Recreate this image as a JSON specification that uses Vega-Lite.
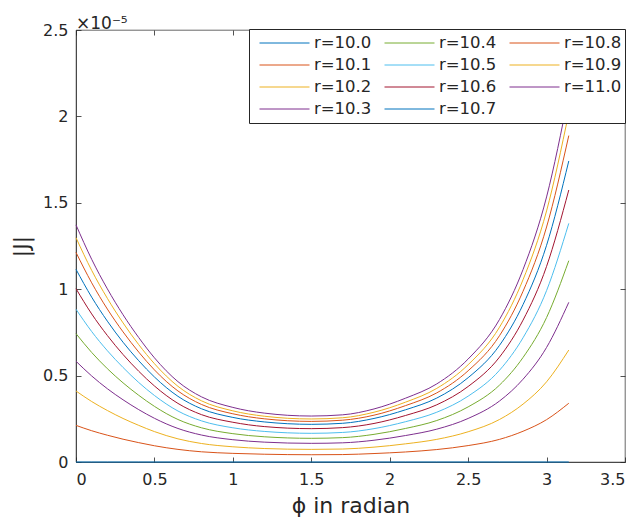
{
  "$schema": "https://vega.github.io/schema/vega-lite/v6.json",
  "autosize": "none",
  "width": 549,
  "height": 432,
  "padding": {"left": 76, "top": 30, "right": 12, "bottom": 60},
  "title": {"text": "×10⁻⁵", "anchor": "start", "frame": "group", "fontSize": 17, "fontWeight": "normal", "color": "#262626", "font": "DejaVu Sans", "offset": 4, "dy": 15},
  "data": {"values": [
    {"r":"r=10.0","p":0,"J":0},{"r":"r=10.0","p":0.1,"J":0},{"r":"r=10.0","p":0.2,"J":0},{"r":"r=10.0","p":0.3,"J":0},{"r":"r=10.0","p":0.4,"J":0},{"r":"r=10.0","p":0.5,"J":0},{"r":"r=10.0","p":0.65,"J":0},{"r":"r=10.0","p":0.8,"J":0},{"r":"r=10.0","p":1.0,"J":0},{"r":"r=10.0","p":1.2,"J":0},{"r":"r=10.0","p":1.5,"J":0},{"r":"r=10.0","p":1.7,"J":0},{"r":"r=10.0","p":1.9,"J":0},{"r":"r=10.0","p":2.1,"J":0},{"r":"r=10.0","p":2.3,"J":0},{"r":"r=10.0","p":2.5,"J":0},{"r":"r=10.0","p":2.7,"J":0},{"r":"r=10.0","p":2.85,"J":0},{"r":"r=10.0","p":3.0,"J":0},{"r":"r=10.0","p":3.1416,"J":0},
    {"r":"r=10.1","p":0,"J":0.212},{"r":"r=10.1","p":0.1,"J":0.181},{"r":"r=10.1","p":0.2,"J":0.155},{"r":"r=10.1","p":0.3,"J":0.132},{"r":"r=10.1","p":0.4,"J":0.112},{"r":"r=10.1","p":0.5,"J":0.094},{"r":"r=10.1","p":0.65,"J":0.073},{"r":"r=10.1","p":0.8,"J":0.059},{"r":"r=10.1","p":1.0,"J":0.050},{"r":"r=10.1","p":1.2,"J":0.045},{"r":"r=10.1","p":1.5,"J":0.042},{"r":"r=10.1","p":1.7,"J":0.043},{"r":"r=10.1","p":1.9,"J":0.049},{"r":"r=10.1","p":2.1,"J":0.058},{"r":"r=10.1","p":2.3,"J":0.072},{"r":"r=10.1","p":2.5,"J":0.095},{"r":"r=10.1","p":2.7,"J":0.131},{"r":"r=10.1","p":2.85,"J":0.178},{"r":"r=10.1","p":3.0,"J":0.245},{"r":"r=10.1","p":3.1416,"J":0.340},
    {"r":"r=10.2","p":0,"J":0.411},{"r":"r=10.2","p":0.1,"J":0.350},{"r":"r=10.2","p":0.2,"J":0.298},{"r":"r=10.2","p":0.3,"J":0.252},{"r":"r=10.2","p":0.4,"J":0.212},{"r":"r=10.2","p":0.5,"J":0.176},{"r":"r=10.2","p":0.65,"J":0.134},{"r":"r=10.2","p":0.8,"J":0.107},{"r":"r=10.2","p":1.0,"J":0.088},{"r":"r=10.2","p":1.2,"J":0.078},{"r":"r=10.2","p":1.5,"J":0.073},{"r":"r=10.2","p":1.7,"J":0.075},{"r":"r=10.2","p":1.9,"J":0.086},{"r":"r=10.2","p":2.1,"J":0.105},{"r":"r=10.2","p":2.3,"J":0.131},{"r":"r=10.2","p":2.5,"J":0.175},{"r":"r=10.2","p":2.7,"J":0.246},{"r":"r=10.2","p":2.85,"J":0.335},{"r":"r=10.2","p":3.0,"J":0.464},{"r":"r=10.2","p":3.1416,"J":0.648},
    {"r":"r=10.3","p":0,"J":0.583},{"r":"r=10.3","p":0.1,"J":0.498},{"r":"r=10.3","p":0.2,"J":0.424},{"r":"r=10.3","p":0.3,"J":0.360},{"r":"r=10.3","p":0.4,"J":0.303},{"r":"r=10.3","p":0.5,"J":0.253},{"r":"r=10.3","p":0.65,"J":0.194},{"r":"r=10.3","p":0.8,"J":0.156},{"r":"r=10.3","p":1.0,"J":0.129},{"r":"r=10.3","p":1.2,"J":0.115},{"r":"r=10.3","p":1.5,"J":0.108},{"r":"r=10.3","p":1.7,"J":0.111},{"r":"r=10.3","p":1.9,"J":0.126},{"r":"r=10.3","p":2.1,"J":0.153},{"r":"r=10.3","p":2.3,"J":0.190},{"r":"r=10.3","p":2.5,"J":0.252},{"r":"r=10.3","p":2.7,"J":0.353},{"r":"r=10.3","p":2.85,"J":0.479},{"r":"r=10.3","p":3.0,"J":0.663},{"r":"r=10.3","p":3.1416,"J":0.924},
    {"r":"r=10.4","p":0,"J":0.743},{"r":"r=10.4","p":0.1,"J":0.634},{"r":"r=10.4","p":0.2,"J":0.540},{"r":"r=10.4","p":0.3,"J":0.458},{"r":"r=10.4","p":0.4,"J":0.386},{"r":"r=10.4","p":0.5,"J":0.322},{"r":"r=10.4","p":0.65,"J":0.246},{"r":"r=10.4","p":0.8,"J":0.198},{"r":"r=10.4","p":1.0,"J":0.164},{"r":"r=10.4","p":1.2,"J":0.146},{"r":"r=10.4","p":1.5,"J":0.137},{"r":"r=10.4","p":1.7,"J":0.141},{"r":"r=10.4","p":1.9,"J":0.160},{"r":"r=10.4","p":2.1,"J":0.194},{"r":"r=10.4","p":2.3,"J":0.240},{"r":"r=10.4","p":2.5,"J":0.319},{"r":"r=10.4","p":2.7,"J":0.445},{"r":"r=10.4","p":2.85,"J":0.605},{"r":"r=10.4","p":3.0,"J":0.836},{"r":"r=10.4","p":3.1416,"J":1.165},
    {"r":"r=10.5","p":0,"J":0.884},{"r":"r=10.5","p":0.1,"J":0.755},{"r":"r=10.5","p":0.2,"J":0.644},{"r":"r=10.5","p":0.3,"J":0.547},{"r":"r=10.5","p":0.4,"J":0.460},{"r":"r=10.5","p":0.5,"J":0.385},{"r":"r=10.5","p":0.65,"J":0.295},{"r":"r=10.5","p":0.8,"J":0.238},{"r":"r=10.5","p":1.0,"J":0.198},{"r":"r=10.5","p":1.2,"J":0.177},{"r":"r=10.5","p":1.5,"J":0.166},{"r":"r=10.5","p":1.7,"J":0.171},{"r":"r=10.5","p":1.9,"J":0.193},{"r":"r=10.5","p":2.1,"J":0.233},{"r":"r=10.5","p":2.3,"J":0.288},{"r":"r=10.5","p":2.5,"J":0.381},{"r":"r=10.5","p":2.7,"J":0.531},{"r":"r=10.5","p":2.85,"J":0.719},{"r":"r=10.5","p":3.0,"J":0.992},{"r":"r=10.5","p":3.1416,"J":1.381},
    {"r":"r=10.6","p":0,"J":1.003},{"r":"r=10.6","p":0.1,"J":0.857},{"r":"r=10.6","p":0.2,"J":0.732},{"r":"r=10.6","p":0.3,"J":0.622},{"r":"r=10.6","p":0.4,"J":0.525},{"r":"r=10.6","p":0.5,"J":0.440},{"r":"r=10.6","p":0.65,"J":0.339},{"r":"r=10.6","p":0.8,"J":0.274},{"r":"r=10.6","p":1.0,"J":0.230},{"r":"r=10.6","p":1.2,"J":0.205},{"r":"r=10.6","p":1.5,"J":0.193},{"r":"r=10.6","p":1.7,"J":0.199},{"r":"r=10.6","p":1.9,"J":0.223},{"r":"r=10.6","p":2.1,"J":0.269},{"r":"r=10.6","p":2.3,"J":0.331},{"r":"r=10.6","p":2.5,"J":0.437},{"r":"r=10.6","p":2.7,"J":0.607},{"r":"r=10.6","p":2.85,"J":0.821},{"r":"r=10.6","p":3.0,"J":1.132},{"r":"r=10.6","p":3.1416,"J":1.574},
    {"r":"r=10.7","p":0,"J":1.115},{"r":"r=10.7","p":0.1,"J":0.954},{"r":"r=10.7","p":0.2,"J":0.815},{"r":"r=10.7","p":0.3,"J":0.693},{"r":"r=10.7","p":0.4,"J":0.586},{"r":"r=10.7","p":0.5,"J":0.492},{"r":"r=10.7","p":0.65,"J":0.380},{"r":"r=10.7","p":0.8,"J":0.308},{"r":"r=10.7","p":1.0,"J":0.258},{"r":"r=10.7","p":1.2,"J":0.232},{"r":"r=10.7","p":1.5,"J":0.218},{"r":"r=10.7","p":1.7,"J":0.224},{"r":"r=10.7","p":1.9,"J":0.252},{"r":"r=10.7","p":2.1,"J":0.302},{"r":"r=10.7","p":2.3,"J":0.370},{"r":"r=10.7","p":2.5,"J":0.488},{"r":"r=10.7","p":2.7,"J":0.675},{"r":"r=10.7","p":2.85,"J":0.911},{"r":"r=10.7","p":3.0,"J":1.254},{"r":"r=10.7","p":3.1416,"J":1.742},
    {"r":"r=10.8","p":0,"J":1.213},{"r":"r=10.8","p":0.1,"J":1.037},{"r":"r=10.8","p":0.2,"J":0.885},{"r":"r=10.8","p":0.3,"J":0.753},{"r":"r=10.8","p":0.4,"J":0.636},{"r":"r=10.8","p":0.5,"J":0.533},{"r":"r=10.8","p":0.65,"J":0.411},{"r":"r=10.8","p":0.8,"J":0.333},{"r":"r=10.8","p":1.0,"J":0.279},{"r":"r=10.8","p":1.2,"J":0.250},{"r":"r=10.8","p":1.5,"J":0.235},{"r":"r=10.8","p":1.7,"J":0.242},{"r":"r=10.8","p":1.9,"J":0.271},{"r":"r=10.8","p":2.1,"J":0.326},{"r":"r=10.8","p":2.3,"J":0.400},{"r":"r=10.8","p":2.5,"J":0.528},{"r":"r=10.8","p":2.7,"J":0.731},{"r":"r=10.8","p":2.85,"J":0.988},{"r":"r=10.8","p":3.0,"J":1.360},{"r":"r=10.8","p":3.1416,"J":1.889},
    {"r":"r=10.9","p":0,"J":1.298},{"r":"r=10.9","p":0.1,"J":1.109},{"r":"r=10.9","p":0.2,"J":0.947},{"r":"r=10.9","p":0.3,"J":0.805},{"r":"r=10.9","p":0.4,"J":0.679},{"r":"r=10.9","p":0.5,"J":0.569},{"r":"r=10.9","p":0.65,"J":0.438},{"r":"r=10.9","p":0.8,"J":0.354},{"r":"r=10.9","p":1.0,"J":0.296},{"r":"r=10.9","p":1.2,"J":0.265},{"r":"r=10.9","p":1.5,"J":0.249},{"r":"r=10.9","p":1.7,"J":0.256},{"r":"r=10.9","p":1.9,"J":0.288},{"r":"r=10.9","p":2.1,"J":0.346},{"r":"r=10.9","p":2.3,"J":0.426},{"r":"r=10.9","p":2.5,"J":0.563},{"r":"r=10.9","p":2.7,"J":0.780},{"r":"r=10.9","p":2.85,"J":1.055},{"r":"r=10.9","p":3.0,"J":1.453},{"r":"r=10.9","p":3.1416,"J":2.020},
    {"r":"r=11.0","p":0,"J":1.372},{"r":"r=11.0","p":0.1,"J":1.173},{"r":"r=11.0","p":0.2,"J":1.002},{"r":"r=11.0","p":0.3,"J":0.852},{"r":"r=11.0","p":0.4,"J":0.720},{"r":"r=11.0","p":0.5,"J":0.603},{"r":"r=11.0","p":0.65,"J":0.465},{"r":"r=11.0","p":0.8,"J":0.377},{"r":"r=11.0","p":1.0,"J":0.316},{"r":"r=11.0","p":1.2,"J":0.283},{"r":"r=11.0","p":1.5,"J":0.266},{"r":"r=11.0","p":1.7,"J":0.273},{"r":"r=11.0","p":1.9,"J":0.307},{"r":"r=11.0","p":2.1,"J":0.369},{"r":"r=11.0","p":2.3,"J":0.452},{"r":"r=11.0","p":2.5,"J":0.596},{"r":"r=11.0","p":2.7,"J":0.825},{"r":"r=11.0","p":2.85,"J":1.114},{"r":"r=11.0","p":3.0,"J":1.534},{"r":"r=11.0","p":3.1416,"J":2.130}
  ]},
  "layer": [
    {
      "mark": {"type": "line", "strokeWidth": 1, "interpolate": "monotone"},
      "encoding": {
        "x": {"field": "p", "type": "quantitative", "scale": {"domain": [0, 3.5], "nice": false, "zero": false},
              "axis": {"orient": "bottom", "values": [0,0.5,1,1.5,2,2.5,3,3.5], "format": "~g", "title": "ϕ in radian", "labelPadding": 14, "titlePadding": 8}},
        "y": {"field": "J", "type": "quantitative", "scale": {"domain": [0, 2.5], "nice": false},
              "axis": {"orient": "left", "values": [0,0.5,1,1.5,2,2.5], "format": "~g", "title": "|J|", "labelPadding": 13, "titlePadding": 9}},
        "color": {"field": "r", "type": "nominal",
                  "scale": {"domain": ["r=10.0","r=10.1","r=10.2","r=10.3","r=10.4","r=10.5","r=10.6","r=10.7","r=10.8","r=10.9","r=11.0"],
                            "range": ["#0072BD","#D95319","#EDB120","#7E2F8E","#77AC30","#4DBEEE","#A2142F","#0072BD","#D95319","#EDB120","#7E2F8E"]},
                  "legend": {"title": null}}
      }
    },
    {
      "mark": {"type": "line", "strokeOpacity": 0},
      "encoding": {
        "x": {"field": "p", "type": "quantitative", "scale": {"domain": [0, 3.5], "nice": false, "zero": false},
              "axis": {"orient": "top", "values": [0,0.5,1,1.5,2,2.5,3,3.5], "labels": false, "title": null, "domain": false, "ticks": true, "tickSize": -5}},
        "y": {"field": "J", "type": "quantitative", "scale": {"domain": [0, 2.5], "nice": false},
              "axis": {"orient": "right", "values": [0,0.5,1,1.5,2,2.5], "labels": false, "title": null, "domain": false, "ticks": true, "tickSize": -5}}
      }
    }
  ],
  "resolve": {"scale": {"x": "independent", "y": "independent"}, "axis": {"x": "independent", "y": "independent"}},
  "config": {
    "font": "DejaVu Sans",
    "view": {"stroke": "#262626", "strokeWidth": 0.7},
    "axis": {"grid": false, "domainColor": "#262626", "domainWidth": 0.7, "tickColor": "#262626", "tickWidth": 0.8, "tickSize": -5,
             "labelColor": "#262626", "labelFontSize": 16, "labelFont": "DejaVu Sans",
             "titleColor": "#262626", "titleFontSize": 22, "titleFontWeight": "normal", "titleFont": "DejaVu Sans"},
    "legend": {"orient": "none", "legendX": 173, "legendY": -1, "columns": 3, "symbolType": "stroke", "symbolSize": 2500, "symbolStrokeWidth": 1,
               "symbolOffset": 7, "labelOffset": 4, "clipHeight": 22,
               "labelFontSize": 16.5, "labelColor": "#262626", "labelFont": "DejaVu Sans",
               "strokeColor": "#262626", "fillColor": "white", "padding": 3, "rowPadding": 0, "columnPadding": 5}
  }
}
